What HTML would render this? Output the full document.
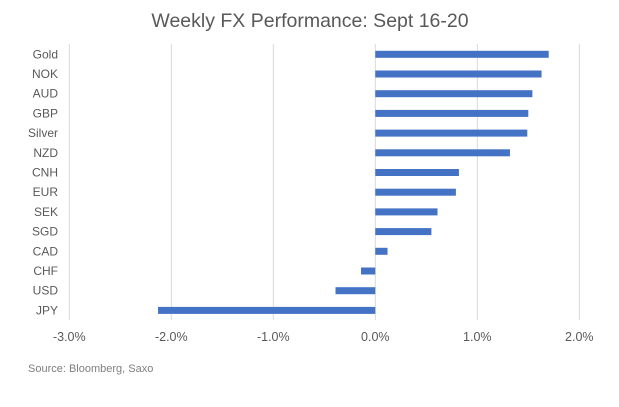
<!DOCTYPE html>
<html><head><meta charset="utf-8"><style>
body{margin:0;background:#fff;font-family:"Liberation Sans",sans-serif}
</style></head><body>
<svg id="chart" width="619" height="402" xmlns="http://www.w3.org/2000/svg">
<rect width="619" height="402" fill="#fff"/>
<text x="310" y="27" text-anchor="middle" font-size="19.5" fill="#595959" font-family="Liberation Sans, sans-serif">Weekly FX Performance: Sept 16-20</text>
<g id="grid"></g><g id="bars"></g><g id="ylabels"></g><g id="xlabels"></g>
<text x="28" y="372" font-size="11" fill="#7f7f7f" font-family="Liberation Sans, sans-serif">Source: Bloomberg, Saxo</text>
</svg>
<script>
const categories=["Gold","NOK","AUD","GBP","Silver","NZD","CNH","EUR","SEK","SGD","CAD","CHF","USD","JPY"];
const values=[1.70,1.63,1.54,1.50,1.49,1.32,0.82,0.79,0.61,0.55,0.12,-0.14,-0.39,-2.13];
const ticks=[-3,-2,-1,0,1,2];
const tickLabels=["-3.0%","-2.0%","-1.0%","0.0%","1.0%","2.0%"];
const NS="http://www.w3.org/2000/svg";
const x=v=>375.3+v*102;
const yc=i=>54.3+i*19.7;
function mk(t,a,p){const e=document.createElementNS(NS,t);for(const k in a)e.setAttribute(k,a[k]);p.appendChild(e);return e;}
const g=document.getElementById('grid'),b=document.getElementById('bars'),yl=document.getElementById('ylabels'),xl=document.getElementById('xlabels');
ticks.forEach((t,i)=>{
 const l=mk('line',{x1:x(t),x2:x(t),y1:44,y2:320,stroke:'#d9d9d9','stroke-width':1},g);
 
 
 const tx=mk('text',{x:x(t),y:341,'text-anchor':'middle','font-size':12.5,fill:'#595959'},xl);
 tx.textContent=tickLabels[i];
 
 
});
categories.forEach((c,i)=>{
 const v=values[i];
 const r=mk('rect',{x:Math.min(x(0),x(v)),y:yc(i)-3.5,width:Math.abs(x(v)-x(0)),height:7,fill:'#4472c4'},b);
 
 
 const t=mk('text',{x:58,y:yc(i)+4,'text-anchor':'end','font-size':12,fill:'#595959'},yl);
 t.textContent=c;
 
 
});
</script>
</body></html>
